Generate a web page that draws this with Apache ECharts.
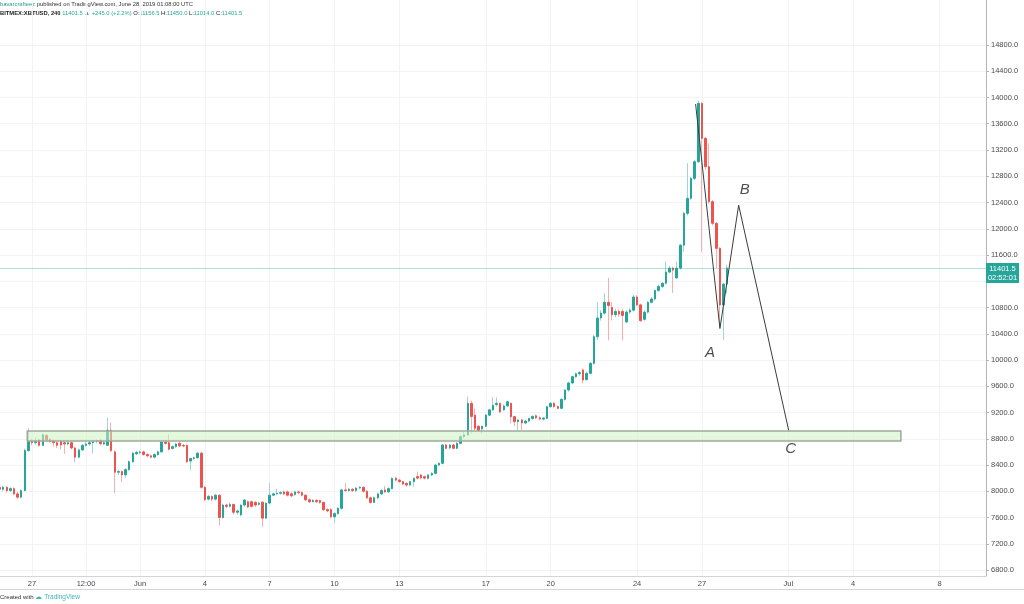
<!DOCTYPE html>
<html><head><meta charset="utf-8">
<script src="https://cdn.jsdelivr.net/npm/echarts@6/dist/echarts.min.js"></script>
<style>html,body{margin:0;padding:0;background:#fff}#c{width:1024px;height:604px}</style>
</head><body><div id="c"></div>
<script>
// ---- data ----
const firstCandle = '2019-05-25 12:00';   // open time of first 4h candle
const candleHours = 4;
// [open, close, low, high] per 4h candle (BITMEX:XBTUSD, 240)
const ohlc = [
[8060,8030,7990,8090],[8030,8060,8000,8090],[8060,8010,7980,8080],[8010,8040,7990,8070],[8040,7960,7940,8060],
[7960,7910,7880,7990],[7910,8010,7890,8030],[8010,8620,8000,8650],[8620,8760,8600,8960],[8760,8740,8700,8800],
[8740,8760,8710,8820],[8780,8700,8680,8800],[8700,8860,8690,8880],[8850,8780,8760,8870],[8790,8760,8740,8810],
[8760,8740,8680,8790],[8740,8700,8660,8760],[8760,8705,8640,8780],[8740,8720,8570,8760],[8720,8740,8700,8770],
[8740,8660,8640,8760],[8660,8520,8440,8680],[8520,8630,8500,8650],[8630,8700,8610,8720],[8700,8720,8680,8760],
[8720,8740,8690,8770],[8740,8760,8580,8780],[8760,8770,8730,8790],[8770,8725,8700,8800],[8720,8740,8700,8770],
[8700,8930,8690,9120],[8930,8620,8600,9050],[8600,8290,7970,8620],[8290,8300,8250,8330],[8300,8250,8140,8320],
[8250,8330,8200,8350],[8330,8450,8310,8470],[8450,8580,8430,8600],[8570,8590,8550,8620],[8590,8600,8560,8620],
[8600,8560,8540,8620],[8560,8540,8520,8580],[8540,8520,8500,8560],[8520,8560,8500,8580],[8560,8600,8540,8620],
[8600,8750,8590,8760],[8750,8730,8710,8770],[8740,8640,8620,8870],[8650,8680,8640,8700],[8680,8720,8660,8740],
[8730,8690,8670,8750],[8700,8690,8670,8720],[8700,8450,8430,8710],[8460,8500,8320,8510],[8500,8510,8480,8530],
[8510,8580,8500,8600],[8580,8060,8040,8600],[8060,7870,7850,8080],[7880,7920,7860,7950],[7920,7880,7850,7940],
[7880,7940,7860,7960],[7940,7600,7480,7950],[7600,7790,7580,7810],[7790,7770,7740,7810],[7770,7800,7750,7830],
[7800,7680,7650,7810],[7680,7700,7640,7720],[7640,7790,7620,7800],[7790,7866,7770,7880],[7840,7760,7740,7860],
[7840,7770,7750,7860],[7830,7790,7760,7850],[7800,7820,7780,7840],[7835,7590,7455,7840],[7590,7820,7580,7830],
[7820,7940,7800,8125],[7940,7960,7920,7980],[7960,7970,7940,8040],[7970,7980,7950,8000],[7990,7960,7940,8010],
[7990,7940,7920,8010],[7960,7930,7910,7990],[7950,7990,7930,8010],[7990,7980,7950,8010],[7980,7940,7920,8000],
[7940,7870,7850,7950],[7870,7840,7820,7890],[7840,7860,7830,7880],[7860,7840,7820,7880],[7860,7830,7810,7870],
[7830,7720,7700,7840],[7720,7700,7680,7740],[7720,7610,7590,7740],[7610,7660,7515,7680],[7660,7740,7640,7760],
[7740,8020,7720,8040],[8020,8010,7990,8125],[8010,8030,7990,8050],[8030,8010,7990,8050],[8010,8050,7990,8060],
[8050,8060,8030,8080],[8060,8000,7980,8080],[8000,7900,7880,8020],[7900,7830,7810,7920],[7830,7900,7820,7920],
[7900,7960,7880,7980],[7960,8010,7940,8030],[8020,7990,7970,8080],[7990,8040,7980,8060],[8040,8197,8030,8210],
[8197,8170,8150,8220],[8170,8146,8130,8190],[8146,8110,8090,8160],[8120,8095,8070,8140],[8095,8146,8080,8160],
[8146,8197,8070,8210],[8222,8200,8180,8300],[8248,8205,8180,8260],[8222,8200,8180,8240],[8197,8248,8180,8260],
[8248,8273,8230,8290],[8273,8400,8260,8420],[8400,8426,8380,8440],[8426,8705,8410,8720],[8705,8654,8640,8720],
[8660,8705,8640,8720],[8705,8654,8640,8720],[8654,8730,8640,8750],[8730,8832,8720,8850],[8832,8857,8810,8908],
[8857,9340,8850,9442],[9340,9140,8883,9380],[9160,8960,8920,9260],[8990,8930,8900,9010],[8950,8990,8880,9000],
[8990,9160,8980,9180],[9160,9240,9140,9260],[9240,9310,9220,9440],[9320,9340,9290,9430],[9340,9210,9190,9350],
[9240,9300,9220,9320],[9300,9365,9280,9380],[9340,9137,9035,9350],[9137,9060,8990,9150],[9060,9086,8933,9100],
[9086,9040,8933,9100],[9040,9070,9020,9090],[9070,9110,9050,9120],[9110,9140,9090,9160],[9150,9120,9100,9170],
[9120,9100,9080,9140],[9100,9115,9080,9130],[9111,9289,9100,9300],[9289,9340,9270,9360],[9340,9290,9270,9360],
[9290,9264,9250,9310],[9264,9400,9250,9420],[9400,9543,9380,9560],[9543,9650,9520,9670],[9650,9746,9630,9760],
[9746,9790,9720,9810],[9790,9810,9760,9830],[9848,9695,9645,9870],[9700,9797,9690,9820],[9797,9949,9780,9970],
[9949,10355,9930,10380],[10355,10640,10300,10880],[10640,10715,10600,10760],[10715,10880,10690,11020],[10880,10830,10300,11250],
[10800,10690,10600,10880],[10690,10740,10650,10780],[10740,10700,10660,10770],[10740,10680,10300,10780],[10580,10730,10560,10760],
[10730,10760,10700,10790],[10760,10960,10740,10990],[10960,10840,10820,10990],[10840,10600,10580,10860],[10620,10730,10600,10760],
[10730,10880,10710,10900],[10880,10930,10860,10960],[10930,11060,10900,11080],[11060,11120,11040,11150],[11120,11170,11100,11190],
[11170,11340,11150,11500],[11340,11400,11320,11430],[11400,11370,11020,11420],[11250,11400,11240,11500],[11400,11750,11380,11770],
[11750,12235,11650,12260],[12235,12464,12200,13000],[12464,12768,12440,12790],[12768,13022,12740,13050],[13022,13910,13000,13950],
[13910,13378,11650,13930],[13378,12945,12900,13400],[12945,12412,12380,13300],[12412,12083,12050,12440],[12083,11702,11400,12100],
[11702,10838,10533,11720],[10838,11156.5,10304,11180],[11156.5,11401.5,11014,11450]
];
const lastPrice = 11401.5;
const countdown = '02:52:01';

const xTickTimes  = ['2019-05-27 00:00','2019-05-29 12:00','2019-06-01 00:00','2019-06-04 00:00','2019-06-07 00:00','2019-06-10 00:00','2019-06-13 00:00','2019-06-17 00:00','2019-06-20 00:00','2019-06-24 00:00','2019-06-27 00:00','2019-07-01 00:00','2019-07-04 00:00','2019-07-08 00:00'];
const xTickLabels = ['27','12:00','Jun','4','7','10','13','17','20','24','27','Jul','4','8'];
const yTicks = [6800,7200,7600,8000,8400,8800,9200,9600,10000,10400,10800,11200,11600,12000,12400,12800,13200,13600,14000,14400,14800];

const xRange = ['2019-05-25 12:28', '2019-07-10 03:30'];
const yRange = [6708.6, 15485.7];

// drawings
const abcPath = [
  {t:'2019-06-26 17:00', v:13900, name:''},
  {t:'2019-06-27 20:00', v:10480, name:'A'},
  {t:'2019-06-28 16:48', v:12360, name:'B'},
  {t:'2019-07-01 00:20', v:8930,  name:'C'}
];
const zone = {from:'2019-05-26 18:45', to:'2019-07-06 05:00', top:8918, bottom:8766};

const headerLine1 = 'published on TradingView.com, June 28, 2019 01:08:00 UTC';
const author = 'bavarcrafteez';
const symbolText = 'BITMEX:XBTUSD, 240';
const changeText = '11401.5 \u25B2 +245.0 (+2.2%)';
const ohlcLast = [['O','11156.5'],['H','11450.0'],['L','11014.0'],['C','11401.5']];

// ---- build ----
function ts(s){const [d,h]=s.split(' ');const [Y,M,D]=d.split('-').map(Number);const [hh,mm]=h.split(':').map(Number);return Date.UTC(Y,M-1,D,hh,mm);}
const t0 = ts(firstCandle);
const times = ohlc.map((_,i)=>t0 + i*candleHours*3600e3);
const wickData = ohlc.map((d,i)=>[times[i], d[0], d[1], d[2], d[3]]);
const bodyData = ohlc.map((d,i)=>[times[i], d[0], d[1], Math.min(d[0],d[1]), Math.max(d[0],d[1])]);
const tickTs = xTickTimes.map(ts);
const labelMap = {}; tickTs.forEach((t,i)=>labelMap[t]=xTickLabels[i]);

const UP='#26a69a', DOWN='#ef5350', UPW='#9fd6cf', DOWNW='#f5b0ae';
const FONT='Liberation Sans, Arial, sans-serif';

const chart = echarts.init(document.getElementById('c'), null, {renderer:'canvas'});
chart.setOption({
  animation:false,
  backgroundColor:'#ffffff',
  grid:{left:0, right:38, top:0, bottom:28, containLabel:false},
  xAxis:{type:'value', min:ts(xRange[0]), max:ts(xRange[1]),
    axisLine:{show:true, lineStyle:{color:'#d1d4dc', width:1}},
    axisTick:{show:false, customValues:tickTs},
    axisLabel:{customValues:tickTs, formatter:v=>labelMap[v]||'', color:'#4a4a4a', fontSize:7.5, fontFamily:FONT, margin:4, showMinLabel:true, showMaxLabel:true},
    splitLine:{show:true, lineStyle:{color:'#f2f3f7', width:1}}
  },
  yAxis:{type:'value', position:'right', min:yRange[0], max:yRange[1], scale:true,
    axisLine:{show:true, lineStyle:{color:'#b2b5be', width:1}},
    axisTick:{show:true, length:3, customValues:yTicks, lineStyle:{color:'#b2b5be'}},
    axisLabel:{customValues:yTicks, formatter:v=>v.toFixed(1), color:'#4a4a4a', fontSize:7.5, fontFamily:FONT, margin:5},
    splitLine:{show:true, lineStyle:{color:'#f2f3f7', width:1}}
  },
  series:[
    {type:'candlestick', name:'wick', data:wickData, encode:{x:0,y:[1,2,3,4]}, barWidth:1, z:2,
      itemStyle:{color:UPW, color0:DOWNW, borderColor:UPW, borderColor0:DOWNW, borderWidth:1}},
    {type:'candlestick', name:'body', data:bodyData, encode:{x:0,y:[1,2,3,4]}, barWidth:2, z:3,
      itemStyle:{color:UP, color0:DOWN, borderColor:UP, borderColor0:DOWN, borderWidth:1},
      markLine:{silent:true, symbol:['none','none'], animation:false,
        lineStyle:{color:'rgba(38,166,154,0.35)', width:1, type:'solid'},
        label:{position:'end', distance:0, offset:[0,5], formatter:'{p|'+lastPrice.toFixed(1)+'}\n{t|'+countdown+'}',
          rich:{p:{backgroundColor:UP, color:'#fff', fontSize:7.5, fontFamily:FONT, width:27, align:'center', padding:[2,3,1,3], lineHeight:9},
                t:{backgroundColor:UP, color:'#fff', fontSize:7.5, fontFamily:FONT, width:27, align:'center', padding:[2,3,1,3], lineHeight:9}}},
        data:[{yAxis:lastPrice}]}
    },
    {type:'line', name:'abc', data:abcPath.map(p=>[ts(p.t), p.v]), symbol:'none', z:5,
      lineStyle:{color:'#3c3c3c', width:1},
      markArea:{silent:true, z:4, itemStyle:{color:'rgba(205,243,195,0.55)', borderColor:'#9fa99c', borderWidth:1.5},
        data:[[{xAxis:ts(zone.from), yAxis:zone.top},{xAxis:ts(zone.to), yAxis:zone.bottom}]]}
    },
    {type:'scatter', name:'abcLabels', symbolSize:0, z:6,
      data:abcPath.filter(p=>p.name).map((p,k)=>({value:[ts(p.t), p.v, p.name],
        label:{offset:[[-10,24],[6,-15],[2,19]][k]}})),
      label:{show:true, position:'inside', formatter:p=>p.value[2], fontSize:15, fontStyle:'italic', color:'#222', fontFamily:FONT}
    }
  ],
  graphic:[
    {type:'text', left:0, top:1, style:{text:'{a|'+author+'} '+headerLine1, fontSize:5.8, fontFamily:FONT, fill:'#333',
      rich:{a:{fill:'#2a9d8f', fontSize:5.8, fontFamily:FONT}}}},
    {type:'text', left:0, top:10, style:{
      text:'{s|'+symbolText+'} {g|'+changeText+'} '+ohlcLast.map(o=>'{k|'+o[0]+':}{g|'+o[1]+'}').join(' '),
      fontSize:5.8, fontFamily:FONT,
      rich:{s:{fill:'#222', fontSize:5.8, fontWeight:'bold', fontFamily:FONT}, k:{fill:'#222', fontSize:5.8, fontFamily:FONT}, g:{fill:'#26a69a', fontSize:5.8, fontFamily:FONT}}}},
    {type:'line', shape:{x1:0, y1:589.5, x2:1024, y2:589.5}, style:{stroke:'#d1d4dc', lineWidth:1}},
    {type:'text', left:0, top:594, style:{text:'Created with {l|\u2601 TradingView}', fontSize:6, fontFamily:FONT, fill:'#333',
      rich:{l:{fill:'#3cb4b4', fontSize:6.5, fontFamily:FONT}}}}
  ]
});
</script></body></html>
